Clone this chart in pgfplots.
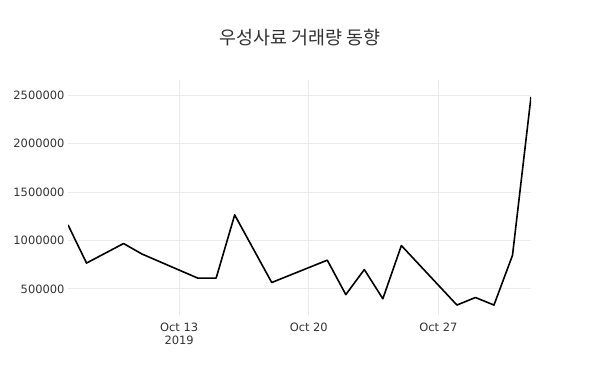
\documentclass[border=0pt]{standalone}
\usepackage{pgfplots}
\pgfplotsset{compat=1.18}
\usepackage{fontspec}
\setmainfont{DejaVu Sans}
\newfontfamily\cjk{Noto Sans CJK KR}
\definecolor{txt}{RGB}{50,50,50}
\definecolor{grd}{RGB}{235,235,235}
\begin{document}
\begin{tikzpicture}[x=1bp,y=1bp]
\useasboundingbox (0,0) rectangle (600,386);
\node[text=txt,font=\cjk\fontsize{18.5}{22}\selectfont] at (300,348) {우성사료 거래량 동향};
\begin{axis}[
  at={(68bp,71bp)}, anchor=south west,
  scale only axis, width=463bp, height=235bp,
  xmin=7, xmax=32, ymin=230000, ymax=2660000,
  axis line style={draw=none},
  major tick length=0pt,
  grid=major, grid style={grd, line width=0.8bp},
  xtick={13,20,27},
  xticklabels={{Oct 13\\2019},{Oct 20},{Oct 27}},
  ytick={500000,1000000,1500000,2000000,2500000},
  scaled y ticks=false,
  /pgf/number format/assume math mode=true,
  yticklabel={\pgfmathprintnumber[fixed,1000 sep={}]{\tick}},
  ticklabel style={text=txt, font=\fontsize{11.5}{13.5}\selectfont},
  xticklabel style={align=center, yshift=-4bp},
  yticklabel style={xshift=0bp},
]
\addplot[black, line width=1.6bp, line join=round] coordinates {
(7,1162000) (8,767000) (10,969000) (11,860000) (14,612000) (15,612000)
(16,1265000) (18,566000) (21,797000) (22,441000) (23,700000) (24,398000)
(25,948000) (28,333000) (29,411000) (30,333000) (31,847000) (32,2486000)
};
\end{axis}
\end{tikzpicture}
\end{document}
